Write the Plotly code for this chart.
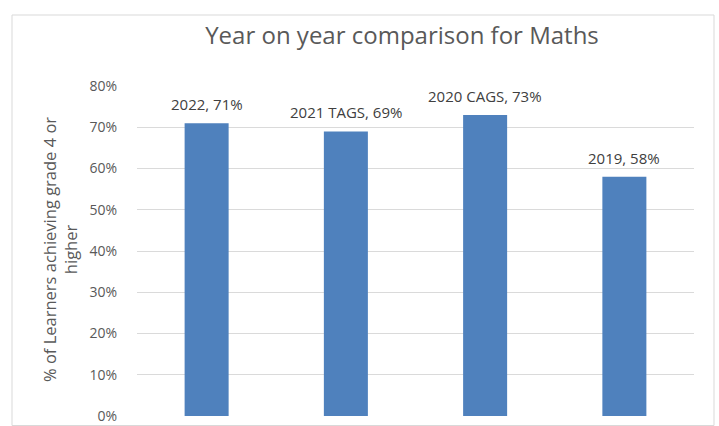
import plotly.graph_objects as go

categories = ["2022", "2021 TAGS", "2020 CAGS", "2019"]
values = [0.71, 0.69, 0.73, 0.58]
labels = ["2022, 71%", "2021 TAGS, 69%", "2020 CAGS, 73%", "2019, 58%"]
y_ticks = [0, 0.1, 0.2, 0.3, 0.4, 0.5, 0.6, 0.7, 0.8]

W, H = 719, 426
ml, mr, mt, mb = 137, 25, 86, 10
pw, ph = W - ml - mr, H - mt - mb

def px_x(x):
    return (x - ml) / pw

def px_y(y):
    return (H - mb - y) / ph

FONT = "Open Sans"

fig = go.Figure()
fig.add_trace(go.Bar(
    x=categories, y=values,
    marker=dict(color="#4f81bd", line=dict(width=0)),
    width=0.316,
))

annotations = []
for i, (v, t) in enumerate(zip(values, labels)):
    annotations.append(dict(x=i, y=v, xref="x", yref="y", text=t, showarrow=False,
                            yanchor="middle", yshift=19,
                            font=dict(family=FONT, size=15, color="#404040")))
annotations.append(dict(x=px_x(60), y=px_y(250), xref="paper", yref="paper",
                        text="% of Learners achieving grade 4 or<br>higher",
                        textangle=-90, showarrow=False, xanchor="center", yanchor="middle",
                        font=dict(family=FONT, size=16.5, color="#595959")))

fig.update_layout(
    width=W, height=H,
    margin=dict(l=ml, r=mr, t=mt, b=mb, autoexpand=False),
    paper_bgcolor="white", plot_bgcolor="white",
    showlegend=False,
    title=dict(text="Year on year comparison for Maths", x=px_x(402), xref="paper",
               xanchor="center", y=1 - 36 / H, yanchor="middle",
               font=dict(family=FONT, size=24, color="#595959")),
    annotations=annotations,
    shapes=[dict(type="rect", xref="paper", yref="paper",
                 x0=px_x(12), x1=px_x(714), y0=px_y(425.5), y1=px_y(15),
                 line=dict(color="#d9d9d9", width=1), fillcolor="rgba(0,0,0,0)",
                 layer="below")],
)
fig.update_xaxes(type="category", categoryorder="array", categoryarray=categories,
                 range=[-0.5, len(categories) - 0.5],
                 showticklabels=False, showgrid=False, zeroline=False,
                 showline=False, ticks="")
fig.update_yaxes(range=[0, 0.8], tickvals=y_ticks, tickformat=".0%",
                 showgrid=True, gridcolor="#dadada", gridwidth=1,
                 zeroline=False, showline=False,
                 tickfont=dict(family=FONT, size=14, color="#595959"),
                 ticks="", ticklabelstandoff=19)

fig.write_html("out.html")
